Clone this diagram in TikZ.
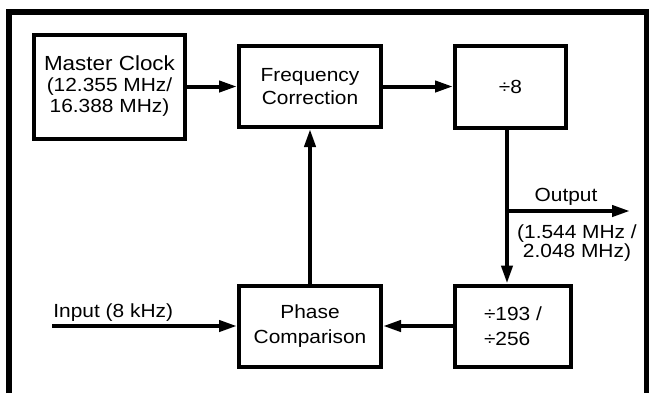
\documentclass[tikz,border=0pt]{standalone}
\usepackage{fontspec}
\setmainfont{Liberation Sans}[FakeStretch=1.1]
\usetikzlibrary{arrows.meta}
\begin{document}
\begin{tikzpicture}[x=0.5pt, y=-0.5pt, every node/.style={font=\fontsize{9.5}{11.5}\selectfont}]
\useasboundingbox (0,0) rectangle (649,393);
\tikzset{blockstyle/.style={draw, line width=2pt, inner sep=0pt, align=center}}
\tikzset{labelstyle/.style={inner sep=0pt}}
% frame
\draw[line width=2.8pt] (9.2,393) -- (9.2,12.2) -- (647,12.2) -- (647,393);

% blocks
\node[blockstyle, minimum width=75.5pt, minimum height=52pt, font=\fontsize{9.5}{10.5}\selectfont] (mc) at (109.5,86.5) {{\fontsize{10.2}{10.5}\selectfont Master Clock}\\(12.355 MHz/\\16.388 MHz)};
\node[blockstyle, minimum width=71pt, minimum height=40.5pt] (fc) at (310,86.5) {Frequency\\Correction};
\node[blockstyle, minimum width=55.5pt, minimum height=41pt] (d8) at (510.5,86.5) {÷8};
\node[blockstyle, minimum width=58pt, minimum height=40.5pt, align=left, font=\fontsize{9.5}{12.5}\selectfont] (d193) at (513,326) {÷193 /\\÷256};
\node[blockstyle, minimum width=71pt, minimum height=40.5pt, font=\fontsize{9.5}{12.3}\selectfont] (pc) at (310,326) {Phase\\Comparison};

% labels
\node[labelstyle, anchor=base west] (inlbl) at (53,317) {Input (8 kHz)};
\node[labelstyle, anchor=base] (outlbl) at (566,201) {Output};
\node[labelstyle, anchor=north, align=center, font=\fontsize{9.5}{9.7}\selectfont] (ratelbl) at (577,224) {(1.544 MHz /\\2.048 MHz)};

\coordinate (inend) at (52,326);
\coordinate (tap) at (507,211);
\coordinate (outend) at (630,211);

\tikzset{linkstyle/.style={-{Triangle[length=9pt, width=5.5pt]}, line width=2pt}}
\path (mc) edge [linkstyle] (fc);
\path (fc) edge [linkstyle] (d8);
\path (d8.south -| tap) edge [linkstyle] (d193.north -| tap);
\path (tap) edge [linkstyle] (outend);
\path (pc) edge [linkstyle] (fc);
\path (d193) edge [linkstyle] (pc);
\path (inend) edge [linkstyle] (pc);
\end{tikzpicture}
\end{document}
